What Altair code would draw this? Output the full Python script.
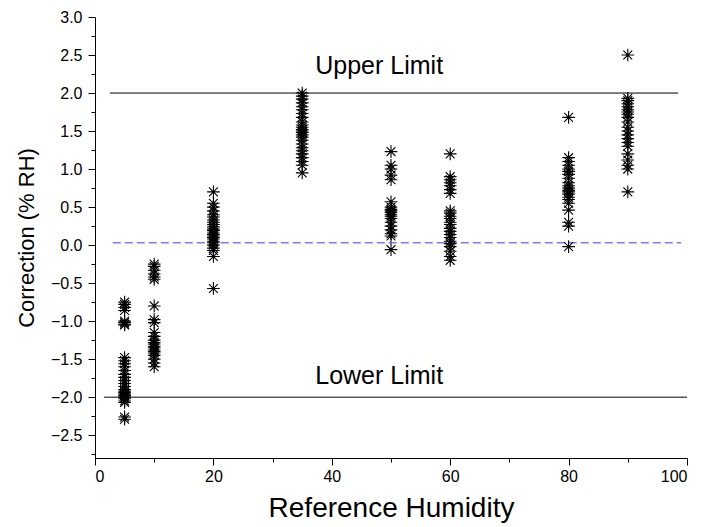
import altair as alt
import pandas as pd

# Reference humidity levels (x) and the corrections measured at each
hum_levels = [5, 10, 20, 35, 50, 60, 80, 90]

corr_5 = [-0.75, -0.78, -0.82, -0.86, -1.00, -1.02, -1.04, -1.05, -1.48, -1.52,
          -1.56, -1.60, -1.65, -1.70, -1.74, -1.78, -1.82, -1.86, -1.90, -1.92,
          -1.94, -1.96, -1.98, -2.00, -2.02, -2.05, -2.07, -2.26, -2.29]
corr_10 = [-0.25, -0.28, -0.33, -0.38, -0.42, -0.45, -0.80, -0.98, -1.02, -1.15,
           -1.20, -1.25, -1.28, -1.30, -1.33, -1.35, -1.38, -1.40, -1.42, -1.45,
           -1.50, -1.55, -1.60]
corr_20 = [0.70, 0.55, 0.50, 0.45, 0.40, 0.37, 0.33, 0.30, 0.27, 0.24, 0.21, 0.19,
           0.16, 0.14, 0.12, 0.10, 0.08, 0.05, 0.03, 0.00, -0.04, -0.07, -0.15, -0.57]
corr_35 = [2.00, 1.96, 1.92, 1.87, 1.82, 1.78, 1.73, 1.68, 1.62, 1.58, 1.55, 1.52,
           1.50, 1.48, 1.45, 1.42, 1.38, 1.33, 1.28, 1.24, 1.20, 1.15, 1.10, 1.05, 0.95]
corr_50 = [1.23, 1.05, 1.00, 0.92, 0.86, 0.57, 0.50, 0.47, 0.45, 0.43, 0.40, 0.38,
           0.35, 0.30, 0.25, 0.20, 0.15, 0.12, -0.06]
corr_60 = [1.20, 0.90, 0.86, 0.82, 0.78, 0.73, 0.68, 0.45, 0.42, 0.38, 0.35, 0.30,
           0.27, 0.22, 0.18, 0.14, 0.10, 0.05, 0.02, -0.02, -0.08, -0.15, -0.20]
corr_80 = [1.68, 1.15, 1.10, 1.05, 1.00, 0.97, 0.93, 0.88, 0.82, 0.78, 0.75, 0.72,
           0.70, 0.67, 0.63, 0.60, 0.55, 0.46, 0.30, 0.25, -0.02]
corr_90 = [2.50, 1.93, 1.90, 1.86, 1.82, 1.78, 1.75, 1.72, 1.68, 1.62, 1.55, 1.50,
           1.45, 1.40, 1.35, 1.30, 1.20, 1.12, 1.05, 1.00, 0.70]

# Limit lines and mean line
limit_y = [2.0, -2.0]
limit_x_start = [2.5, 1.5]
limit_x_end = [98.5, 100.0]
mean_y = [0.03]
mean_x_start = [3.0]
mean_x_end = [99.0]

# Annotations
label_text = ["Upper Limit", "Lower Limit"]
label_x = [48.0, 48.0]
label_y = [2.36, -1.72]

# Axis ticks
x_ticks = [0, 10, 20, 30, 40, 50, 60, 70, 80, 90, 100]
y_ticks = [-2.75, -2.5, -2.25, -2.0, -1.75, -1.5, -1.25, -1.0, -0.75, -0.5, -0.25,
           0.0, 0.25, 0.5, 0.75, 1.0, 1.25, 1.5, 1.75, 2.0, 2.25, 2.5, 2.75, 3.0]

all_vals = [corr_5, corr_10, corr_20, corr_35, corr_50, corr_60, corr_80, corr_90]
rows = []
for h, vals in zip(hum_levels, all_vals):
    for v in vals:
        rows.append({"humidity": h, "correction": v})
df = pd.DataFrame(rows)

df_lim = pd.DataFrame({"y": limit_y, "x": limit_x_start, "x2": limit_x_end})
df_mean = pd.DataFrame({"y": mean_y, "x": mean_x_start, "x2": mean_x_end})
df_lab = pd.DataFrame({"t": label_text, "x": label_x, "y": label_y})

FONT = "Liberation Sans"
x_scale = alt.Scale(domain=[0, 100], nice=False, zero=False)
y_scale = alt.Scale(domain=[-2.8, 3.0], nice=False, zero=False)

x_major = "datum.value % 20 === 0"
y_major = "abs(datum.value * 2 - round(datum.value * 2)) < 0.001"

x_axis = alt.Axis(
    values=x_ticks, title="Reference Humidity",
    labelExpr=f"{x_major} ? format(datum.value, 'd') : ''",
    tickSize={"condition": {"test": x_major, "value": 7}, "value": 4},
    grid=False, domainColor="black", tickColor="black", labelColor="black",
    labelFont=FONT, labelFontSize=16, labelPadding=3, labelOverlap=False,
    titleFont=FONT, titleFontSize=28, titleFontWeight="normal", titleColor="black",
    titlePadding=10,
)
y_axis = alt.Axis(
    values=y_ticks, title="Correction (% RH)",
    labelExpr=f"{y_major} ? format(datum.value, '.1f') : ''",
    tickSize={"condition": {"test": y_major, "value": 7}, "value": 4},
    grid=False, domainColor="black", tickColor="black", labelColor="black",
    labelFont=FONT, labelFontSize=16, labelPadding=6, labelOverlap=False,
    titleFont=FONT, titleFontSize=22, titleFontWeight="normal", titleColor="black",
    titlePadding=12,
)

star = "M-1,0L1,0M0,-1L0,1M-0.7,-0.7L0.7,0.7M-0.7,0.7L0.7,-0.7"

points = alt.Chart(df).mark_point(
    shape=star, filled=False, stroke="black", strokeWidth=1.1, size=160, opacity=1
).encode(
    x=alt.X("humidity:Q", scale=x_scale, axis=x_axis),
    y=alt.Y("correction:Q", scale=y_scale, axis=y_axis),
)

lims = alt.Chart(df_lim).mark_rule(color="black", strokeWidth=1).encode(
    x=alt.X("x:Q", scale=x_scale, axis=x_axis),
    x2="x2:Q",
    y=alt.Y("y:Q", scale=y_scale, axis=y_axis),
)

mean = alt.Chart(df_mean).mark_rule(color="#3a3aff", strokeWidth=1, strokeDash=[8, 4]).encode(
    x=alt.X("x:Q", scale=x_scale, axis=x_axis),
    x2="x2:Q",
    y=alt.Y("y:Q", scale=y_scale, axis=y_axis),
)

labels = alt.Chart(df_lab).mark_text(
    font=FONT, fontSize=25, color="black", align="center", baseline="middle"
).encode(
    x=alt.X("x:Q", scale=x_scale, axis=x_axis),
    y=alt.Y("y:Q", scale=y_scale, axis=y_axis),
    text="t:N",
)

chart = alt.layer(lims, mean, points, labels).properties(
    width=592, height=441,
    autosize=alt.AutoSizeParams(type="none"),
    padding={"left": 95, "top": 17, "right": 16, "bottom": 69},
    background="white",
).configure_view(stroke=None)

chart.save("out.html", embed_options={"renderer": "svg", "actions": False})
